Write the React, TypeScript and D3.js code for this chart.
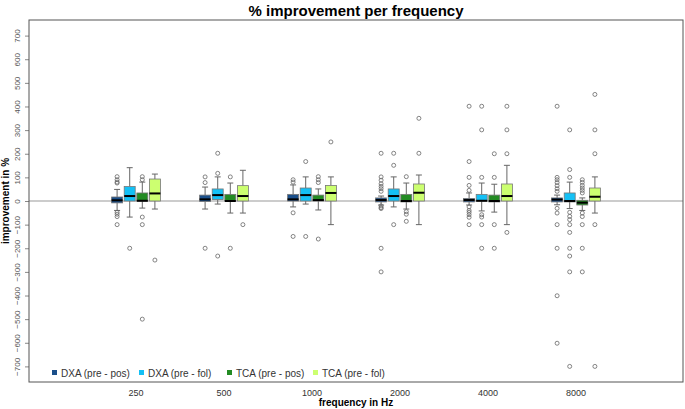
import * as d3 from 'd3';
import { useEffect, useRef } from 'react';

const frequencies = ['250', '500', '1000', '2000', '4000', '8000'];
const seriesNames = ['DXA (pre - pos)', 'DXA (pre - fol)', 'TCA (pre - pos)', 'TCA (pre - fol)'];
const seriesColors = ['#1b4f8a', '#14c0f5', '#238b23', '#ccff70'];
const yTicks = [-700, -600, -500, -400, -300, -200, -100, 0, 100, 200, 300, 400, 500, 600, 700];

// [lower whisker, q1, median, q3, upper whisker] per frequency
const dxaPosStats = [
    [-40, -8, 3, 17, 49],
    [-34, -2, 7, 25, 59],
    [-25, 0, 7, 28, 68],
    [-17, -4, 4, 13, 21],
    [-17, -4, 4, 11, 34],
    [-16, -4, 6, 13, 25],
];
const dxaFolStats = [
    [-68, 0, 21, 61, 141],
    [-13, 6, 25, 51, 102],
    [-13, 0, 25, 55, 102],
    [-25, 0, 21, 51, 102],
    [-42, 0, 1, 28, 76],
    [-32, -4, 0, 34, 80],
];
const tcaPosStats = [
    [-30, 0, 1, 34, 80],
    [-51, 0, 0, 28, 76],
    [-38, 0, 4, 25, 51],
    [-34, -4, 0, 28, 76],
    [-47, -4, 0, 25, 71],
    [-40, -17, -7, 3, 13],
];
const tcaFolStats = [
    [-34, 0, 32, 93, 114],
    [-51, 0, 21, 65, 130],
    [-100, 0, 34, 66, 102],
    [-100, 0, 35, 72, 110],
    [-100, 0, 21, 72, 151],
    [-51, 0, 18, 55, 102],
];

const dxaPosOutliers = [
    [76, 80, 90, 103, -48, -56, -66, -100],
    [78, 102, -200],
    [80, 90, -50, -150],
    [41, 52, 62, 73, 88, 102, 202, -21, -28, -32, -200, -300],
    [45, 66, 100, 167, 401, -25, -40, -48, -58, -69, -100],
    [41, 52, 65, 78, 90, 100, 401, -31, -51, -100, -200, -401, -602],
];
const dxaFolOutliers = [
    [-200],
    [117, 202, -233],
    [167, -150],
    [151, 202, -100],
    [100, 301, 401, -58, -68, -100, -200],
    [100, 133, 301, -48, -65, -79, -100, -133, -200, -233, -300, -700],
];
const tcaPosOutliers = [
    [90, 103, -68, -100, -500],
    [102, -200],
    [78, 90, 103, -161],
    [103, -45, -56, -86],
    [100, 200, -100, -200],
    [34, 45, 55, 66, 79, 90, -51, -66, -100, -200, -300],
];
const tcaFolOutliers = [
    [-250],
    [-100],
    [250],
    [202, 350],
    [200, 301, 401, -133],
    [200, 301, 451, -100, -700],
];

const allStats = [dxaPosStats, dxaFolStats, tcaPosStats, tcaFolStats];
const allOutliers = [dxaPosOutliers, dxaFolOutliers, tcaPosOutliers, tcaFolOutliers];

const App = () => {
    const svgRef = useRef<SVGSVGElement>(null);

    useEffect(() => {
        const svg = d3.select(svgRef.current);
        svg.selectAll('*').remove();

        const width = 685;
        const height = 409;
        const margin = { top: 20, right: 2, bottom: 27, left: 29 };
        const innerWidth = width - margin.left - margin.right;
        const innerHeight = height - margin.top - margin.bottom;
        const font = '"Liberation Sans", Arial, sans-serif';

        const xScale = d3.scalePoint().domain(frequencies).range([0, innerWidth]).padding(1.216);
        const yScale = d3.scaleLinear().domain([-766, 766]).range([innerHeight, 0]);

        const boxStep = 12.6;
        const boxW = 11;
        const capW = 6;

        // Title
        svg.append('text')
            .attr('x', margin.left + innerWidth / 2)
            .attr('y', 16)
            .attr('text-anchor', 'middle')
            .style('font-family', font)
            .style('font-size', '15px')
            .style('font-weight', 'bold')
            .text('% improvement per frequency');

        const g = svg.append('g').attr('transform', `translate(${margin.left},${margin.top})`);

        // Zero line
        g.append('line')
            .attr('x1', 0).attr('x2', innerWidth)
            .attr('y1', yScale(0)).attr('y2', yScale(0))
            .attr('stroke', '#999').attr('stroke-width', 1);

        // Y axis
        const yAxis = g.append('g').call(d3.axisLeft(yScale).tickValues(yTicks).tickSize(4).tickFormat(d3.format('d')));
        yAxis.select('.domain').remove();
        yAxis.selectAll('.tick line').attr('stroke', '#888');
        yAxis.selectAll('.tick text')
            .attr('transform', 'rotate(-90)')
            .attr('x', 0)
            .attr('y', -9)
            .attr('dy', 0)
            .attr('text-anchor', 'middle')
            .attr('fill', '#555')
            .style('font-family', font)
            .style('font-size', '8px');

        // X tick labels
        g.append('g').selectAll('text')
            .data(frequencies)
            .enter()
            .append('text')
            .attr('x', (d) => xScale(d)!)
            .attr('y', innerHeight + 14)
            .attr('text-anchor', 'middle')
            .attr('fill', '#333')
            .style('font-family', font)
            .style('font-size', '9px')
            .text((d) => d);

        // Axis titles
        svg.append('text')
            .attr('x', margin.left + innerWidth / 2)
            .attr('y', height - 3)
            .attr('text-anchor', 'middle')
            .style('font-family', font)
            .style('font-size', '10px')
            .style('font-weight', 'bold')
            .text('frequency in Hz');

        svg.append('text')
            .attr('transform', `translate(9,${margin.top + innerHeight / 2}) rotate(-90)`)
            .attr('text-anchor', 'middle')
            .style('font-family', font)
            .style('font-size', '10px')
            .style('font-weight', 'bold')
            .text('improvement in %');

        // Boxes
        allStats.forEach((stats, si) => {
            const sg = g.append('g');
            stats.forEach((s, fi) => {
                const cx = xScale(frequencies[fi])! + (si - 1.5) * boxStep;
                const [lo, q1, med, q3, hi] = s;
                const wc = '#666';
                sg.append('line').attr('x1', cx).attr('x2', cx).attr('y1', yScale(hi)).attr('y2', yScale(q3)).attr('stroke', wc);
                sg.append('line').attr('x1', cx).attr('x2', cx).attr('y1', yScale(q1)).attr('y2', yScale(lo)).attr('stroke', wc);
                sg.append('line').attr('x1', cx - capW / 2).attr('x2', cx + capW / 2).attr('y1', yScale(hi)).attr('y2', yScale(hi)).attr('stroke', wc);
                sg.append('line').attr('x1', cx - capW / 2).attr('x2', cx + capW / 2).attr('y1', yScale(lo)).attr('y2', yScale(lo)).attr('stroke', wc);
                sg.append('rect')
                    .attr('x', cx - boxW / 2)
                    .attr('y', yScale(q3))
                    .attr('width', boxW)
                    .attr('height', Math.max(1, yScale(q1) - yScale(q3)))
                    .attr('fill', seriesColors[si])
                    .attr('stroke', '#777')
                    .attr('stroke-width', 0.8);
                sg.append('line')
                    .attr('x1', cx - boxW / 2).attr('x2', cx + boxW / 2)
                    .attr('y1', yScale(med)).attr('y2', yScale(med))
                    .attr('stroke', '#000').attr('stroke-width', 2);
                sg.selectAll(null)
                    .data(allOutliers[si][fi])
                    .enter()
                    .append('circle')
                    .attr('cx', cx)
                    .attr('cy', (d) => yScale(d))
                    .attr('r', 2)
                    .attr('fill', 'none')
                    .attr('stroke', '#666')
                    .attr('stroke-width', 0.8);
            });
        });

        // Legend
        const legendX = [23, 110, 198, 284];
        const legend = g.append('g').attr('transform', `translate(0,${innerHeight - 9})`);
        seriesNames.forEach((name, i) => {
            legend.append('rect')
                .attr('x', legendX[i])
                .attr('y', -3)
                .attr('width', 5)
                .attr('height', 5)
                .attr('fill', seriesColors[i]);
            legend.append('text')
                .attr('x', legendX[i] + 9)
                .attr('y', 3.5)
                .attr('fill', '#333')
                .style('font-family', font)
                .style('font-size', '10px')
                .text(name);
        });

        // Frame
        g.append('rect')
            .attr('width', innerWidth)
            .attr('height', innerHeight)
            .attr('fill', 'none')
            .attr('stroke', '#555')
            .attr('stroke-width', 1);
    }, []);

    return (
        <svg ref={svgRef} width={685} height={409} style={{ position: 'absolute', left: 0, top: 0 }}></svg>
    );
};

export default App;
